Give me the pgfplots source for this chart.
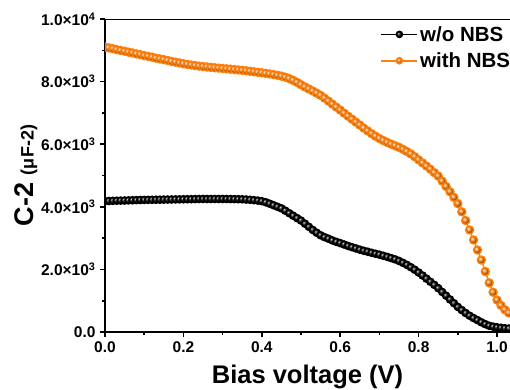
\documentclass[border=0pt]{standalone}
\usepackage{pgfplots}
\pgfplotsset{compat=1.18}
\usepackage{fontspec}
\setmainfont{Liberation Sans}
\definecolor{myorange}{RGB}{255,128,10}

\pgfplotstableread{
x y
0.00 4180
0.01 4185
0.02 4190
0.03 4195
0.04 4198
0.05 4200
0.06 4205
0.07 4210
0.08 4213
0.09 4217
0.10 4220
0.11 4222
0.12 4224
0.13 4226
0.14 4228
0.15 4230
0.16 4232
0.17 4234
0.18 4236
0.19 4238
0.20 4240
0.21 4242
0.22 4244
0.23 4246
0.24 4248
0.25 4250
0.26 4250
0.27 4250
0.28 4250
0.29 4250
0.30 4250
0.31 4249
0.32 4247
0.33 4245
0.34 4243
0.35 4240
0.36 4232
0.37 4224
0.38 4212
0.39 4198
0.40 4180
0.41 4145
0.42 4100
0.43 4050
0.44 4000
0.45 3950
0.46 3875
0.47 3795
0.48 3715
0.49 3637
0.50 3560
0.51 3460
0.52 3360
0.53 3260
0.54 3170
0.55 3090
0.56 3030
0.57 2980
0.58 2925
0.59 2880
0.60 2840
0.61 2795
0.62 2750
0.63 2710
0.64 2670
0.65 2630
0.66 2595
0.67 2565
0.68 2530
0.69 2500
0.70 2470
0.71 2435
0.72 2400
0.73 2360
0.74 2320
0.75 2270
0.76 2210
0.77 2145
0.78 2070
0.79 1990
0.80 1900
0.81 1805
0.82 1705
0.83 1605
0.84 1505
0.85 1400
0.86 1280
0.87 1160
0.88 1040
0.89 920
0.90 800
0.91 700
0.92 605
0.93 520
0.94 445
0.95 380
0.96 310
0.97 250
0.98 200
0.99 170
1.00 150
1.01 135
1.02 120
1.03 110
}\woNBS

\pgfplotstableread{
x y
0.00 9100
0.01 9075
0.02 9050
0.03 9020
0.04 8995
0.05 8970
0.06 8940
0.07 8915
0.08 8885
0.09 8860
0.10 8830
0.11 8805
0.12 8780
0.13 8750
0.14 8725
0.15 8700
0.16 8675
0.17 8645
0.18 8620
0.19 8595
0.20 8570
0.21 8550
0.22 8530
0.23 8510
0.24 8495
0.25 8480
0.26 8468
0.27 8455
0.28 8443
0.29 8432
0.30 8420
0.31 8408
0.32 8396
0.33 8384
0.34 8372
0.35 8360
0.36 8345
0.37 8330
0.38 8313
0.39 8297
0.40 8280
0.41 8262
0.42 8244
0.43 8224
0.44 8202
0.45 8175
0.46 8140
0.47 8095
0.48 8040
0.49 7975
0.50 7900
0.51 7830
0.52 7765
0.53 7700
0.54 7630
0.55 7560
0.56 7470
0.57 7375
0.58 7280
0.59 7185
0.60 7090
0.61 6990
0.62 6895
0.63 6800
0.64 6705
0.65 6610
0.66 6515
0.67 6425
0.68 6335
0.69 6255
0.70 6180
0.71 6115
0.72 6055
0.73 6000
0.74 5950
0.75 5900
0.76 5835
0.77 5765
0.78 5690
0.79 5600
0.80 5500
0.81 5400
0.82 5300
0.83 5200
0.84 5090
0.85 4980
0.86 4820
0.87 4650
0.88 4480
0.89 4300
0.90 4100
0.91 3840
0.92 3560
0.93 3260
0.94 2940
0.95 2620
0.96 2300
0.97 1930
0.98 1570
0.99 1270
1.00 1020
1.01 850
1.02 710
1.03 610
}\withNBS

\begin{document}
\begin{tikzpicture}
\begin{axis}[
  name=ax,
  scale only axis, width=405pt, height=313pt,
  xmin=0, xmax=1.033, ymin=0, ymax=10000,
  axis lines*=left,
  axis line style={line width=1.6pt},
  xtick={0,0.2,0.4,0.6,0.8,1.0},
  xticklabels={0.0,0.2,0.4,0.6,0.8,1.0},
  ytick={0,2000,4000,6000,8000,10000},
  yticklabels={0.0,
    2.0×10\textsuperscript{3},
    4.0×10\textsuperscript{3},
    6.0×10\textsuperscript{3},
    8.0×10\textsuperscript{3},
    1.0×10\textsuperscript{4}},
  scaled y ticks=false, scaled x ticks=false,
  minor x tick num=1, minor y tick num=1,
  tick align=outside,
  major tick length=5pt, minor tick length=3pt,
  every tick/.style={line width=1.6pt, black},
  ticklabel style={font=\fontsize{15.5}{17}\selectfont\bfseries},
  xticklabel style={yshift=-1pt},
  yticklabel style={xshift=-1pt},
  xlabel={Bias voltage (V)},
  xlabel style={font=\fontsize{25.5}{28}\selectfont\bfseries,
    at={(axis description cs:0.5,0)}, anchor=base, yshift=-51pt},
  ylabel={\fontsize{27}{30}\selectfont C-2 \fontsize{18}{20}\selectfont(μF-2)},
  ylabel style={font=\bfseries, at={(axis description cs:0,0.5)},
    anchor=center, yshift=79pt},
  clip marker paths=true,
  legend style={at={(rel axis cs:0.68,0.984)}, anchor=north west,
    draw=none, fill=none, font=\fontsize{20.5}{22}\selectfont\bfseries,
    row sep=6pt, inner sep=0pt,
    nodes={inner sep=2pt}},
  legend cell align=left,
  legend image code/.code={
    \draw[mark repeat=2, mark phase=2, mark size=3pt, line width=1.6pt]
      plot coordinates {(0pt,0pt) (18pt,0pt) (36pt,0pt)};},
]
\addplot[black, line width=1.4pt, mark=ball, mark size=3.6pt,
  mark options={ball color=black, draw=none}] table[x=x,y=y] {\woNBS};
\addlegendentry{w/o NBS}
\addplot[myorange, line width=1.4pt, mark=ball, mark size=4pt,
  mark options={ball color=myorange, draw=none}] table[x=x,y=y] {\withNBS};
\addlegendentry{with NBS}
\draw[line width=1.6pt] (rel axis cs:0,1) -- (rel axis cs:1,1);
\end{axis}
\pgfresetboundingbox
\path[use as bounding box] ([shift={(-105pt,-57pt)}]ax.south west) rectangle ([shift={(0pt,19pt)}]ax.north east);
\end{tikzpicture}
\end{document}
